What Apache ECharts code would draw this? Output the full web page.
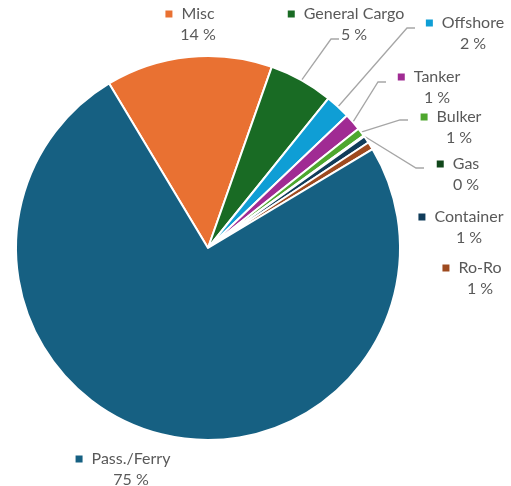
<!DOCTYPE html>
<html><head><meta charset="utf-8">
<script src="https://cdn.jsdelivr.net/npm/echarts@6/dist/echarts.min.js"></script>
<style>html,body{margin:0;padding:0;background:#fff}#c{width:511px;height:486px}</style>
</head><body><div id="c"></div>
<script>
const categories = ['Misc', 'General Cargo', 'Offshore', 'Tanker', 'Bulker', 'Gas', 'Container', 'Ro-Ro', 'Pass./Ferry'];
const shares = [14.0, 5.4, 2.1, 1.45, 0.7, 0.1, 0.6, 0.65, 75.0];
const colors = ['#E97132', '#196B24', '#0F9ED5', '#A02B93', '#4EA72E', '#10461A', '#103C5A', '#9E4A1F', '#166082'];

// label placement: [name-line centre x, name-line y, leader end offset from label centre or null]
const labelPlace = {
  'Misc': [198, 14, null],
  'General Cargo': [354, 14, [-15, 25]],
  'Offshore': [473, 23, [-58, 5]],
  'Tanker': [437, 77, [-51, 5]],
  'Bulker': [459, 117, [-51, 3]],
  'Gas': [466, 164, [-42, 4]],
  'Container': [469, 217, null],
  'Ro-Ro': [480, 268, null],
  'Pass./Ferry': [131, 459, null]
};

const total = shares.reduce((a, b) => a + b, 0);
const LH = 21;

const rich = {
  g: { width: 9 },
  s: { width: 16 },
  n: { fontFamily: 'Lato', fontSize: 16, color: '#595959', lineHeight: LH },
  p: { fontFamily: 'Lato', fontSize: 16, color: '#595959', lineHeight: LH }
};
colors.forEach((c, i) => { rich['m' + i] = { width: 7, height: 7, backgroundColor: c, lineHeight: LH }; });

const data = categories.map((name, i) => ({
  name: name,
  value: shares[i],
  itemStyle: { color: colors[i] },
  labelLine: { show: !!labelPlace[name][2] }
}));

const chart = echarts.init(document.getElementById('c'), null, { renderer: 'canvas' });
chart.setOption({
  animation: false,
  backgroundColor: '#ffffff',
  series: [{
    type: 'pie',
    center: [208, 248],
    radius: 192,
    startAngle: 121,
    clockwise: true,
    avoidLabelOverlap: false,
    data: data,
    itemStyle: { borderColor: '#ffffff', borderWidth: 2 },
    label: {
      show: true,
      position: 'outside',
      fontFamily: 'Lato',
      fontSize: 16,
      color: '#595959',
      lineHeight: LH,
      align: 'center',
      rich: rich,
      formatter: function (p) {
        const pct = Math.round(p.value / total * 100);
        return '{m' + p.dataIndex + '| }{g| }{n|' + p.name + '}{s| }\n{p|' + pct + ' %}';
      }
    },
    labelLine: { show: true, lineStyle: { color: '#A6A6A6', width: 1.3 } },
    labelLayout: function (params) {
      const name = categories[params.dataIndex];
      const pl = labelPlace[name];
      const cx = pl[0];
      const cy = pl[1] + LH / 2;
      const out = { x: cx, y: cy, align: 'center', verticalAlign: 'middle' };
      if (pl[2] && params.labelLinePoints) {
        const start = params.labelLinePoints[0];
        const end = [cx + pl[2][0], cy + pl[2][1] - LH / 2 + (pl[2][1] > 15 ? 0 : 0)];
        const endPt = [cx + pl[2][0], pl[1] + pl[2][1]];
        const elbow = [endPt[0] - 8, endPt[1]];
        out.labelLinePoints = [start, elbow, endPt];
      }
      return out;
    }
  }]
});
</script>
</body></html>
